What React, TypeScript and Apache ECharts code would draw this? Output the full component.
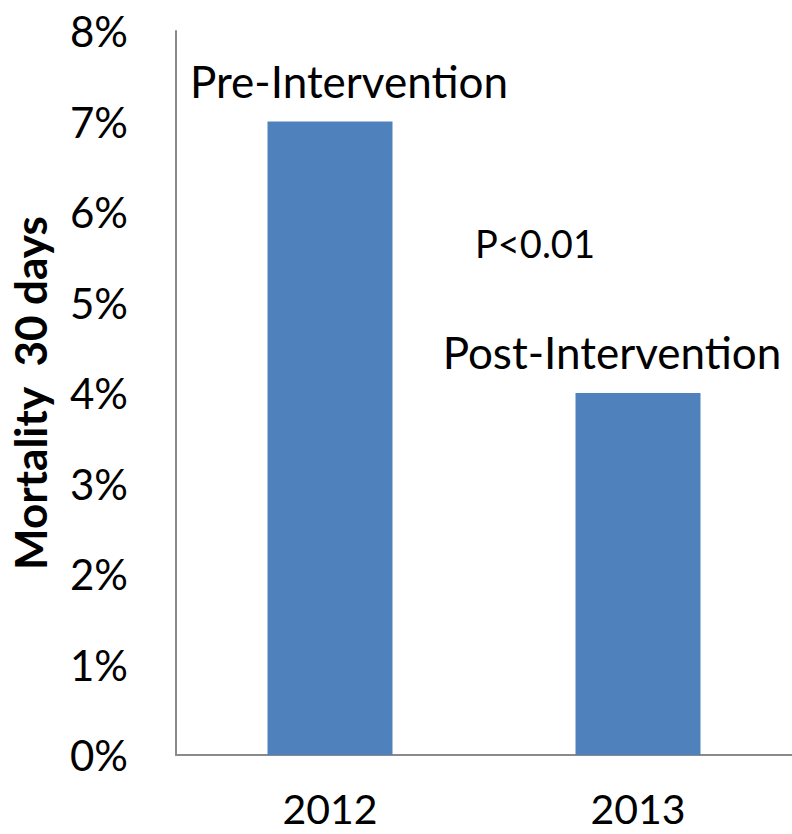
import React, { useEffect, useRef } from "react";
import * as echarts from "echarts";

const categories = ["2012", "2013"];
const mortality = [7, 4];
const barLabels = ["Pre-Intervention", "Post-Intervention"];
const labelOffsets = [[19, 0], [-26, 0]];
const yTicks = { min: 0, max: 8, interval: 1 };
const pValueText = "P<0.01";
const yAxisName = "Mortality  30 days";

const FONT = "Lato";

export default function App() {
  const ref = useRef<HTMLDivElement>(null);
  useEffect(() => {
    if (!ref.current) return;
    const chart = echarts.init(ref.current, null, { renderer: "svg" });
    chart.setOption({
      animation: false,
      backgroundColor: "#ffffff",
      grid: { left: 171, right: 0, top: 31, bottom: 79, containLabel: false },
      xAxis: {
        type: "category",
        data: categories,
        axisLine: { show: true, lineStyle: { color: "#8a8a8a", width: 2 } },
        axisTick: { show: false },
        axisLabel: { color: "#000", fontSize: 41, lineHeight: 38, fontFamily: FONT, margin: 34 },
      },
      yAxis: {
        type: "value",
        min: yTicks.min,
        max: yTicks.max,
        interval: yTicks.interval,
        name: yAxisName,
        nameLocation: "middle",
        nameGap: 124,
        nameTextStyle: { color: "#000", fontSize: 44, fontWeight: "bold", fontFamily: FONT },
        axisLine: { show: true, lineStyle: { color: "#8a8a8a", width: 2 } },
        axisTick: { show: false },
        splitLine: { show: false },
        axisLabel: {
          color: "#000",
          fontSize: 42,
          fontFamily: FONT,
          margin: 48,
          formatter: (v: number) => `${Math.round(v)}%`,
        },
      },
      series: [
        {
          type: "bar",
          barWidth: 125,
          itemStyle: { color: "#4f81bd" },
          data: mortality.map((v, i) => ({
            value: v,
            label: {
              show: true,
              position: "top",
              distance: 19,
              offset: labelOffsets[i],
              formatter: barLabels[i],
              color: "#000",
              fontSize: 44,
              fontFamily: FONT,
            },
          })),
        },
      ],
      graphic: [
        {
          type: "text",
          left: 475,
          top: 224,
          style: { text: pValueText, fill: "#000", fontSize: 38, fontFamily: FONT },
        },
      ],
    });
    return () => chart.dispose();
  }, []);
  return (
    <div
      ref={ref}
      style={{ position: "fixed", left: 0, top: 0, width: 792, height: 834, background: "#fff" }}
    />
  );
}
